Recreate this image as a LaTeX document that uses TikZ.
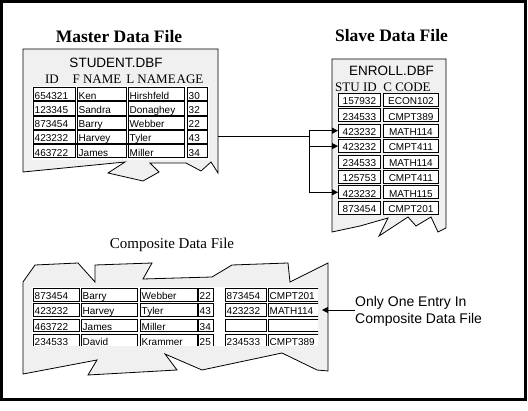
\documentclass[tikz,border=0pt]{standalone}
\usepackage{fontspec}
\setmainfont{Liberation Serif}
\newfontfamily\sansf{Liberation Sans}
\usetikzlibrary{arrows.meta,calc}
\definecolor{shapegray}{RGB}{240,240,240}
\tikzset{
  paper/.style={draw=black,fill=shapegray,line width=0.8pt,line join=miter},
  cellbox/.style={draw=black,fill=white,line width=0.8pt,inner sep=0pt,rectangle},
  celltext/.style={inner sep=0pt,font=\sansf\fontsize{10}{12}\selectfont},
  bigtitle/.style={inner sep=0pt,font=\bfseries\fontsize{17.5}{20}\selectfont},
  dbfname/.style={inner sep=0pt,font=\sansf\fontsize{13.5}{16}\selectfont},
  colhead/.style={inner sep=0pt,font=\fontsize{13}{15}\selectfont},
  link/.style={draw=black,line width=0.8pt},
  arrowlink/.style={link,-{Triangle[length=6pt,width=6pt]}}
}
\newcommand{\cellL}[6]{%
  \node[cellbox,minimum width=#4,minimum height=#5,anchor=north west] (#1) at (#2,#3) {};
  \node[celltext,anchor=base west] at ([xshift=1.5pt,yshift=2pt]#1.south west) {#6};}
\newcommand{\cellC}[6]{%
  \node[cellbox,minimum width=#4,minimum height=#5,anchor=north west] (#1) at (#2,#3) {};
  \node[celltext,anchor=base] at ([yshift=2pt]#1.south) {#6};}
\begin{document}
\begin{tikzpicture}[x=1pt,y=-1pt]
\useasboundingbox (0,0) rectangle (528,411);
\fill[white] (0,0) rectangle (528,411);
\draw[line width=3pt] (1.5,1.5) rectangle (525,400);

% ---------------- Master ----------------
\node[bigtitle] (mtitle) at (119,37) {Master Data File};
\path[paper] (23,49) -- (218,49) -- (218,173) -- (211,162) -- (201,171) -- (186,163)
  -- (150,163) -- (159,172) -- (143,181) -- (108,173) -- (125,162) -- (23,172) -- cycle;
\node[dbfname] (mdbf) at (116,62.5) {STUDENT.DBF};
\node[colhead] (mh1) at (52,79) {ID};
\node[colhead] (mh2) at (97,79) {F NAME};
\node[colhead] (mh3) at (151,79) {L NAME};
\node[colhead] (mh4) at (190,79) {AGE};
\fill[white] (32,86) rectangle (209,160);
\foreach \i/\a/\b/\c/\d in {1/654321/Ken/Hirshfeld/30,2/123345/Sandra/Donaghey/32,
  3/873454/Barry/Webber/22,4/423232/Harvey/Tyler/43,5/463722/James/Miller/34}{
  \pgfmathsetmacro\yy{87+(\i-1)*14.3}
  \cellL{m\i a}{33}{\yy}{42}{13.3}{\a}
  \cellL{m\i b}{77}{\yy}{49}{13.3}{\b}
  \cellL{m\i c}{128}{\yy}{56}{13.3}{\c}
  \cellL{m\i d}{187}{\yy}{20}{13.3}{\d}
}
\draw[line width=1.8pt] (m4a.south west) -- (m4c.south east);

% ---------------- Slave ----------------
\node[bigtitle] (stitle) at (391.5,36) {Slave Data File};
\path[paper] (332,59) -- (446,59) -- (446,228) -- (438,232) -- (431,217) -- (416,226)
  -- (408,217) -- (379,236) -- (388,218) -- (360,226) -- (332,232) -- cycle;
\node[dbfname] (sdbf) at (391.5,71) {ENROLL.DBF};
\node[colhead] (sh1) at (356,87) {STU ID};
\node[colhead] (sh2) at (407,87) {C CODE};
\foreach \i/\a/\b in {1/157932/ECON102,2/234533/CMPT389,3/423232/MATH114,4/423232/CMPT411,
  5/234533/MATH114,6/125753/CMPT411,7/423232/MATH115,8/873454/CMPT201}{
  \pgfmathsetmacro\yy{93+(\i-1)*15.4}
  \cellC{s\i}{338}{\yy}{42}{13}{\a}
  \cellC{sc\i}{383}{\yy}{55}{13}{\b}
}

% ---------------- links ----------------
\coordinate (mout) at (218,136);
\coordinate (jn) at (309,136);
\draw[link] (mout) -- (jn);
\draw[link] (jn |- s3.west) -- (jn |- s7.west);
\draw[arrowlink] (jn |- s3.west) -- (s3.west);
\draw[arrowlink] (jn |- s4.west) -- (s4.west);
\draw[arrowlink] (jn |- s7.west) -- (s7.west);

% ---------------- Composite ----------------
\node[inner sep=0pt,font=\fontsize{15}{18}\selectfont] (ctitle) at (172,245) {Composite Data File};
\path[paper] (23,282) -- (35,265) -- (78,263) -- (95,282) -- (95,265) -- (152,263)
  -- (143,279) -- (212,277) -- (232,265) -- (288,263) -- (290,282) -- (328,263)
  -- (328,371) -- (317,370) -- (282,353) -- (202,370) -- (165,354) -- (177,370)
  -- (88,375) -- (97,360) -- (23,374) -- cycle;
\fill[white] (32,287) rectangle (318,346);
\begin{scope}
\clip (32,287) rectangle (318,346);
\foreach \i/\a/\b/\c/\d/\e/\f in {1/873454/Barry/Webber/22/873454/CMPT201,
  2/423232/Harvey/Tyler/43/423232/MATH114,3/463722/James/Miller/34//,
  4/234533/David/Krammer/25/234533/CMPT389}{
  \pgfmathsetmacro\yy{288+(\i-1)*15.3}
  \cellL{c\i a}{33}{\yy}{46}{12.8}{\a}
  \cellL{c\i b}{81}{\yy}{56}{12.8}{\b}
  \cellL{c\i c}{140}{\yy}{57}{12.8}{\c}
  \cellL{c\i d}{198}{\yy}{15}{12.8}{\d}
  \cellL{c\i e}{225}{\yy}{41}{12.8}{\e}
  \cellL{c\i f}{268}{\yy}{56}{12.8}{\f}
}
\end{scope}

\node[inner sep=0pt,anchor=west,align=left,font=\sansf\fontsize{14}{17}\selectfont] (note) at (355,311.5) {Only One Entry In\\Composite Data File};
\coordinate (ctip) at (322,310);
\draw[arrowlink] (note.west |- ctip) -- (ctip);
\end{tikzpicture}
\end{document}
